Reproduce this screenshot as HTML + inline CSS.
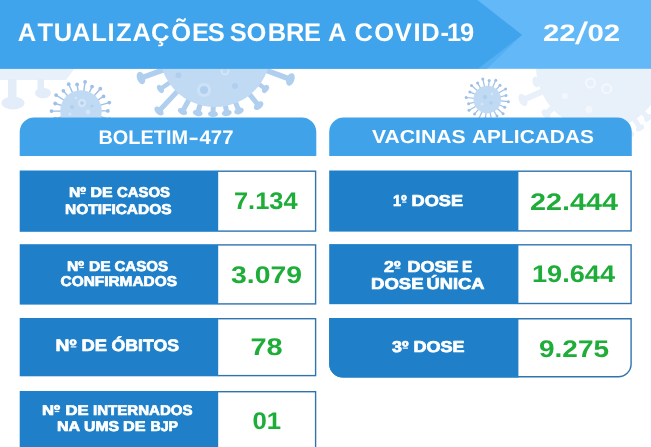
<!DOCTYPE html>
<html lang="pt-BR"><head><meta charset="utf-8"><title>Atualizações sobre a COVID-19</title>
<style>html,body{margin:0;padding:0;background:#fff;overflow:hidden}svg{display:block}</style></head>
<body>
<svg width="651" height="447" viewBox="0 0 651 447" font-family='"Liberation Sans", sans-serif' text-rendering="geometricPrecision">
<defs>
<clipPath id="band"><rect x="0" y="68" width="651" height="379"/></clipPath>
</defs>
<rect width="651" height="447" fill="#ffffff"/>
<g clip-path="url(#band)">
<rect x="0" y="68" width="60" height="12" fill="#e8f0fa"/>
<polygon points="60,68 75,68 66,80 60,80" fill="#e8f0fa"/>
<rect x="8" y="79" width="8.5" height="20" fill="#e3edf9"/><ellipse cx="13" cy="103" rx="11.5" ry="6.5" fill="#e3edf9"/>
<rect x="37.5" y="79" width="6.5" height="11" fill="#e3edf9"/><ellipse cx="43" cy="93" rx="8" ry="5.2" fill="#e3edf9"/>
<line x1="83.6" y1="92.7" x2="85.1" y2="81.8" stroke="#9fc0e6" stroke-width="1.4" stroke-linecap="round"/>
<circle cx="85.1" cy="81.8" r="1.9" fill="#9fc0e6"/>
<line x1="88.6" y1="94.2" x2="92.1" y2="86.6" stroke="#9fc0e6" stroke-width="1.4" stroke-linecap="round"/>
<circle cx="92.1" cy="86.6" r="1.9" fill="#9fc0e6"/>
<line x1="93.1" y1="97.0" x2="100.3" y2="88.7" stroke="#9fc0e6" stroke-width="1.4" stroke-linecap="round"/>
<circle cx="100.3" cy="88.7" r="1.9" fill="#9fc0e6"/>
<line x1="96.5" y1="101.0" x2="103.5" y2="96.4" stroke="#9fc0e6" stroke-width="1.4" stroke-linecap="round"/>
<circle cx="103.5" cy="96.4" r="1.9" fill="#9fc0e6"/>
<line x1="98.7" y1="105.7" x2="109.3" y2="102.6" stroke="#9fc0e6" stroke-width="1.4" stroke-linecap="round"/>
<circle cx="109.3" cy="102.6" r="1.9" fill="#9fc0e6"/>
<line x1="99.5" y1="110.9" x2="107.8" y2="110.9" stroke="#9fc0e6" stroke-width="1.4" stroke-linecap="round"/>
<circle cx="107.8" cy="110.9" r="1.9" fill="#9fc0e6"/>
<line x1="98.8" y1="116.2" x2="109.3" y2="119.2" stroke="#9fc0e6" stroke-width="1.4" stroke-linecap="round"/>
<circle cx="109.3" cy="119.2" r="1.9" fill="#9fc0e6"/>
<line x1="96.6" y1="121.0" x2="103.6" y2="125.4" stroke="#9fc0e6" stroke-width="1.4" stroke-linecap="round"/>
<circle cx="103.6" cy="125.4" r="1.9" fill="#9fc0e6"/>
<line x1="93.2" y1="124.9" x2="100.4" y2="133.2" stroke="#9fc0e6" stroke-width="1.4" stroke-linecap="round"/>
<circle cx="100.4" cy="133.2" r="1.9" fill="#9fc0e6"/>
<line x1="88.7" y1="127.8" x2="92.2" y2="135.4" stroke="#9fc0e6" stroke-width="1.4" stroke-linecap="round"/>
<circle cx="92.2" cy="135.4" r="1.9" fill="#9fc0e6"/>
<line x1="83.7" y1="129.3" x2="85.3" y2="140.2" stroke="#9fc0e6" stroke-width="1.4" stroke-linecap="round"/>
<circle cx="85.3" cy="140.2" r="1.9" fill="#9fc0e6"/>
<line x1="78.4" y1="129.3" x2="77.3" y2="137.6" stroke="#9fc0e6" stroke-width="1.4" stroke-linecap="round"/>
<circle cx="77.3" cy="137.6" r="1.9" fill="#9fc0e6"/>
<line x1="73.4" y1="127.8" x2="68.8" y2="137.9" stroke="#9fc0e6" stroke-width="1.4" stroke-linecap="round"/>
<circle cx="68.8" cy="137.9" r="1.9" fill="#9fc0e6"/>
<line x1="68.9" y1="125.0" x2="63.5" y2="131.3" stroke="#9fc0e6" stroke-width="1.4" stroke-linecap="round"/>
<circle cx="63.5" cy="131.3" r="1.9" fill="#9fc0e6"/>
<line x1="65.5" y1="121.0" x2="56.2" y2="127.0" stroke="#9fc0e6" stroke-width="1.4" stroke-linecap="round"/>
<circle cx="56.2" cy="127.0" r="1.9" fill="#9fc0e6"/>
<line x1="63.3" y1="116.3" x2="55.3" y2="118.6" stroke="#9fc0e6" stroke-width="1.4" stroke-linecap="round"/>
<circle cx="55.3" cy="118.6" r="1.9" fill="#9fc0e6"/>
<line x1="62.5" y1="111.1" x2="51.5" y2="111.1" stroke="#9fc0e6" stroke-width="1.4" stroke-linecap="round"/>
<circle cx="51.5" cy="111.1" r="1.9" fill="#9fc0e6"/>
<line x1="63.2" y1="105.8" x2="55.2" y2="103.5" stroke="#9fc0e6" stroke-width="1.4" stroke-linecap="round"/>
<circle cx="55.2" cy="103.5" r="1.9" fill="#9fc0e6"/>
<line x1="65.4" y1="101.0" x2="56.1" y2="95.1" stroke="#9fc0e6" stroke-width="1.4" stroke-linecap="round"/>
<circle cx="56.1" cy="95.1" r="1.9" fill="#9fc0e6"/>
<line x1="68.8" y1="97.1" x2="63.4" y2="90.8" stroke="#9fc0e6" stroke-width="1.4" stroke-linecap="round"/>
<circle cx="63.4" cy="90.8" r="1.9" fill="#9fc0e6"/>
<line x1="73.3" y1="94.2" x2="68.7" y2="84.2" stroke="#9fc0e6" stroke-width="1.4" stroke-linecap="round"/>
<circle cx="68.7" cy="84.2" r="1.9" fill="#9fc0e6"/>
<line x1="78.3" y1="92.7" x2="77.1" y2="84.4" stroke="#9fc0e6" stroke-width="1.4" stroke-linecap="round"/>
<circle cx="77.1" cy="84.4" r="1.9" fill="#9fc0e6"/>
<circle cx="81" cy="111" r="20.8" fill="#c0daf3"/>
<circle cx="82" cy="103" r="4.2" fill="#d3e5f7"/><circle cx="82" cy="103" r="1.8" fill="#b0cfef"/><circle cx="72" cy="107" r="2" fill="#b0cfef"/><circle cx="92" cy="106" r="1.6" fill="#b0cfef"/><circle cx="76" cy="98" r="1.3" fill="#d3e5f7"/><circle cx="88" cy="112" r="2.4" fill="#d3e5f7"/><circle cx="70" cy="114" r="1.5" fill="#d3e5f7"/>
<line x1="163.9" y1="69.7" x2="141.0" y2="78.0" stroke="#b0cfef" stroke-width="5.5" stroke-linecap="round"/>
<ellipse cx="141.0" cy="78.0" rx="4.0" ry="6.5" transform="rotate(160.1 141.0 78.0)" fill="#b0cfef"/>
<line x1="170.4" y1="82.1" x2="160.4" y2="89.0" stroke="#b0cfef" stroke-width="4.5" stroke-linecap="round"/>
<ellipse cx="160.4" cy="89.0" rx="2.8" ry="4.5" transform="rotate(145.3 160.4 89.0)" fill="#b0cfef"/>
<line x1="177.9" y1="90.8" x2="159.0" y2="111.0" stroke="#b0cfef" stroke-width="5" stroke-linecap="round"/>
<ellipse cx="159.0" cy="111.0" rx="3.4" ry="5.5" transform="rotate(133.1 159.0 111.0)" fill="#b0cfef"/>
<line x1="189.2" y1="99.0" x2="182.5" y2="111.5" stroke="#b0cfef" stroke-width="5" stroke-linecap="round"/>
<ellipse cx="182.5" cy="111.5" rx="3.1" ry="5.0" transform="rotate(118.3 182.5 111.5)" fill="#b0cfef"/>
<line x1="200.4" y1="103.5" x2="197.7" y2="113.0" stroke="#b0cfef" stroke-width="5" stroke-linecap="round"/>
<ellipse cx="197.7" cy="113.0" rx="3.1" ry="5.0" transform="rotate(105.6 197.7 113.0)" fill="#b0cfef"/>
<line x1="213.3" y1="105.5" x2="213.0" y2="114.0" stroke="#b0cfef" stroke-width="5" stroke-linecap="round"/>
<ellipse cx="213.0" cy="114.0" rx="3.1" ry="5.0" transform="rotate(91.8 213.0 114.0)" fill="#b0cfef"/>
<line x1="225.2" y1="104.5" x2="226.8" y2="113.0" stroke="#b0cfef" stroke-width="5" stroke-linecap="round"/>
<ellipse cx="226.8" cy="113.0" rx="3.1" ry="5.0" transform="rotate(79.2 226.8 113.0)" fill="#b0cfef"/>
<line x1="235.2" y1="101.6" x2="239.0" y2="111.0" stroke="#b0cfef" stroke-width="5" stroke-linecap="round"/>
<ellipse cx="239.0" cy="111.0" rx="3.1" ry="5.0" transform="rotate(68.1 239.0 111.0)" fill="#b0cfef"/>
<line x1="249.0" y1="93.6" x2="258.6" y2="105.6" stroke="#b0cfef" stroke-width="5" stroke-linecap="round"/>
<ellipse cx="258.6" cy="105.6" rx="3.4" ry="5.5" transform="rotate(51.3 258.6 105.6)" fill="#b0cfef"/>
<line x1="258.5" y1="83.7" x2="265.5" y2="89.0" stroke="#b0cfef" stroke-width="4.5" stroke-linecap="round"/>
<ellipse cx="265.5" cy="89.0" rx="2.8" ry="4.5" transform="rotate(36.8 265.5 89.0)" fill="#b0cfef"/>
<line x1="265.9" y1="70.2" x2="290.4" y2="79.4" stroke="#b0cfef" stroke-width="5.5" stroke-linecap="round"/>
<ellipse cx="290.4" cy="79.4" rx="4.0" ry="6.5" transform="rotate(20.5 290.4 79.4)" fill="#b0cfef"/>
<circle cx="215" cy="51.2" r="55.8" fill="#c0daf3"/>
<circle cx="178.4" cy="75.2" r="3" fill="#b0cfef"/><circle cx="204" cy="90" r="7" fill="#cde2f6"/><circle cx="204" cy="90" r="4" fill="#b0cfef"/><circle cx="235" cy="86" r="3" fill="#b0cfef"/><circle cx="225" cy="71" r="3.5" fill="none" stroke="#d6e7f8" stroke-width="1.5"/>
<line x1="498.7" y1="100.7" x2="508.4" y2="101.7" stroke="#9fc0e6" stroke-width="1.2" stroke-linecap="round"/>
<circle cx="508.4" cy="101.7" r="1.5" fill="#9fc0e6"/>
<line x1="497.8" y1="104.2" x2="504.8" y2="107.3" stroke="#9fc0e6" stroke-width="1.2" stroke-linecap="round"/>
<circle cx="504.8" cy="107.3" r="1.5" fill="#9fc0e6"/>
<line x1="495.9" y1="107.3" x2="503.1" y2="113.7" stroke="#9fc0e6" stroke-width="1.2" stroke-linecap="round"/>
<circle cx="503.1" cy="113.7" r="1.5" fill="#9fc0e6"/>
<line x1="493.1" y1="109.5" x2="497.0" y2="116.1" stroke="#9fc0e6" stroke-width="1.2" stroke-linecap="round"/>
<circle cx="497.0" cy="116.1" r="1.5" fill="#9fc0e6"/>
<line x1="489.7" y1="110.8" x2="491.8" y2="120.3" stroke="#9fc0e6" stroke-width="1.2" stroke-linecap="round"/>
<circle cx="491.8" cy="120.3" r="1.5" fill="#9fc0e6"/>
<line x1="486.2" y1="111.0" x2="485.4" y2="118.7" stroke="#9fc0e6" stroke-width="1.2" stroke-linecap="round"/>
<circle cx="485.4" cy="118.7" r="1.5" fill="#9fc0e6"/>
<line x1="482.7" y1="110.1" x2="478.8" y2="119.0" stroke="#9fc0e6" stroke-width="1.2" stroke-linecap="round"/>
<circle cx="478.8" cy="119.0" r="1.5" fill="#9fc0e6"/>
<line x1="479.6" y1="108.2" x2="474.6" y2="113.9" stroke="#9fc0e6" stroke-width="1.2" stroke-linecap="round"/>
<circle cx="474.6" cy="113.9" r="1.5" fill="#9fc0e6"/>
<line x1="477.4" y1="105.4" x2="469.0" y2="110.3" stroke="#9fc0e6" stroke-width="1.2" stroke-linecap="round"/>
<circle cx="469.0" cy="110.3" r="1.5" fill="#9fc0e6"/>
<line x1="476.1" y1="102.0" x2="468.6" y2="103.7" stroke="#9fc0e6" stroke-width="1.2" stroke-linecap="round"/>
<circle cx="468.6" cy="103.7" r="1.5" fill="#9fc0e6"/>
<line x1="475.9" y1="98.5" x2="466.2" y2="97.5" stroke="#9fc0e6" stroke-width="1.2" stroke-linecap="round"/>
<circle cx="466.2" cy="97.5" r="1.5" fill="#9fc0e6"/>
<line x1="476.8" y1="95.0" x2="469.8" y2="91.9" stroke="#9fc0e6" stroke-width="1.2" stroke-linecap="round"/>
<circle cx="469.8" cy="91.9" r="1.5" fill="#9fc0e6"/>
<line x1="478.7" y1="91.9" x2="471.5" y2="85.5" stroke="#9fc0e6" stroke-width="1.2" stroke-linecap="round"/>
<circle cx="471.5" cy="85.5" r="1.5" fill="#9fc0e6"/>
<line x1="481.5" y1="89.7" x2="477.6" y2="83.1" stroke="#9fc0e6" stroke-width="1.2" stroke-linecap="round"/>
<circle cx="477.6" cy="83.1" r="1.5" fill="#9fc0e6"/>
<line x1="484.9" y1="88.4" x2="482.8" y2="78.9" stroke="#9fc0e6" stroke-width="1.2" stroke-linecap="round"/>
<circle cx="482.8" cy="78.9" r="1.5" fill="#9fc0e6"/>
<line x1="488.4" y1="88.2" x2="489.2" y2="80.5" stroke="#9fc0e6" stroke-width="1.2" stroke-linecap="round"/>
<circle cx="489.2" cy="80.5" r="1.5" fill="#9fc0e6"/>
<line x1="491.9" y1="89.1" x2="495.8" y2="80.2" stroke="#9fc0e6" stroke-width="1.2" stroke-linecap="round"/>
<circle cx="495.8" cy="80.2" r="1.5" fill="#9fc0e6"/>
<line x1="495.0" y1="91.0" x2="500.0" y2="85.3" stroke="#9fc0e6" stroke-width="1.2" stroke-linecap="round"/>
<circle cx="500.0" cy="85.3" r="1.5" fill="#9fc0e6"/>
<line x1="497.2" y1="93.8" x2="505.6" y2="88.9" stroke="#9fc0e6" stroke-width="1.2" stroke-linecap="round"/>
<circle cx="505.6" cy="88.9" r="1.5" fill="#9fc0e6"/>
<line x1="498.5" y1="97.2" x2="506.0" y2="95.5" stroke="#9fc0e6" stroke-width="1.2" stroke-linecap="round"/>
<circle cx="506.0" cy="95.5" r="1.5" fill="#9fc0e6"/>
<circle cx="487.3" cy="99.6" r="13.8" fill="#c0daf3"/>
<circle cx="485" cy="97" r="2.2" fill="#b0cfef"/><circle cx="491" cy="103" r="1.8" fill="#b0cfef"/><circle cx="482" cy="104" r="1.5" fill="#d3e5f7"/><circle cx="492" cy="94" r="1.4" fill="#d3e5f7"/>
<line x1="542.8" y1="91.2" x2="523.0" y2="100.0" stroke="#e8f0fa" stroke-width="6" stroke-linecap="round"/>
<ellipse cx="523.0" cy="100.0" rx="4.0" ry="6.5" transform="rotate(156.2 523.0 100.0)" fill="#e8f0fa"/>
<line x1="539.4" y1="81.2" x2="536.0" y2="82.0" stroke="#e8f0fa" stroke-width="6" stroke-linecap="round"/>
<ellipse cx="536.0" cy="82.0" rx="3.4" ry="5.5" transform="rotate(166.0 536.0 82.0)" fill="#e8f0fa"/>
<line x1="553.3" y1="107.5" x2="546.0" y2="114.0" stroke="#e8f0fa" stroke-width="6" stroke-linecap="round"/>
<ellipse cx="546.0" cy="114.0" rx="3.4" ry="5.5" transform="rotate(138.4 546.0 114.0)" fill="#e8f0fa"/>
<line x1="633.9" y1="118.5" x2="640.0" y2="128.0" stroke="#e8f0fa" stroke-width="5" stroke-linecap="round"/>
<ellipse cx="640.0" cy="128.0" rx="2.8" ry="4.5" transform="rotate(57.2 640.0 128.0)" fill="#e8f0fa"/>
<line x1="642.4" y1="111.9" x2="648.0" y2="118.0" stroke="#e8f0fa" stroke-width="5" stroke-linecap="round"/>
<ellipse cx="648.0" cy="118.0" rx="2.8" ry="4.5" transform="rotate(47.3 648.0 118.0)" fill="#e8f0fa"/>
<line x1="624.9" y1="123.3" x2="630.0" y2="135.0" stroke="#e8f0fa" stroke-width="5" stroke-linecap="round"/>
<ellipse cx="630.0" cy="135.0" rx="2.8" ry="4.5" transform="rotate(66.5 630.0 135.0)" fill="#e8f0fa"/>
<circle cx="600" cy="66" r="64" fill="#e8f0fa"/>
<circle cx="590.5" cy="83" r="4.5" fill="none" stroke="#f4f8fd" stroke-width="2"/><circle cx="606.7" cy="88.7" r="4.5" fill="none" stroke="#f4f8fd" stroke-width="2"/><circle cx="589" cy="109.6" r="3.5" fill="#f3f7fc"/><circle cx="565" cy="96" r="3" fill="#f3f7fc"/>
</g>
<rect x="0" y="0" width="651" height="68.8" fill="#63b8f7"/>
<polygon points="478,0 522,35 487,68.8 478,68.8" fill="#54aff3"/>
<polygon points="0,0 477,0 522,35 478,68.8 0,68.8" fill="#3fa4eb"/>
<path d="M19.7,156.1 V132.0 A14.5,14.5 0 0 1 34.2,117.5 H301.8 A14.5,14.5 0 0 1 316.3,132.0 V156.1 Z" fill="#40a3ea"/>
<path d="M329.2,156.1 V132.0 A14.5,14.5 0 0 1 343.7,117.5 H617.3 A14.5,14.5 0 0 1 631.8,132.0 V156.1 Z" fill="#40a3ea"/>
<rect x="19.7" y="170.5" width="199.0" height="61.3" fill="#1f80c9"/>
<rect x="218.2" y="170.5" width="98.1" height="61.3" fill="#2f74ae"/>
<rect x="218.2" y="171.9" width="96.7" height="58.5" fill="#fff"/>
<rect x="19.7" y="244.2" width="199.0" height="60.4" fill="#1f80c9"/>
<rect x="218.2" y="244.2" width="98.1" height="60.4" fill="#2f74ae"/>
<rect x="218.2" y="245.6" width="96.7" height="57.6" fill="#fff"/>
<rect x="19.7" y="318" width="199.0" height="58.3" fill="#1f80c9"/>
<rect x="218.2" y="318" width="98.1" height="58.3" fill="#2f74ae"/>
<rect x="218.2" y="319.4" width="96.7" height="55.5" fill="#fff"/>
<rect x="19.7" y="391" width="199.0" height="64.0" fill="#1f80c9"/>
<rect x="218.2" y="391" width="98.1" height="64.0" fill="#2f74ae"/>
<rect x="218.2" y="392.4" width="96.7" height="61.2" fill="#fff"/>
<rect x="329.2" y="170.5" width="189.7" height="61.1" fill="#1f80c9"/>
<rect x="518.4" y="170.5" width="113.4" height="61.1" fill="#2f74ae"/>
<rect x="518.4" y="171.9" width="112.0" height="58.3" fill="#fff"/>
<rect x="329.2" y="244.1" width="189.7" height="60.1" fill="#1f80c9"/>
<rect x="518.4" y="244.1" width="113.4" height="60.1" fill="#2f74ae"/>
<rect x="518.4" y="245.5" width="112.0" height="57.3" fill="#fff"/>
<path d="M329.2,318 H631.8 V364.0 A13.5,13.5 0 0 1 618.3,377.5 H342.7 A13.5,13.5 0 0 1 329.2,364.0 Z" fill="#2f74ae"/>
<path d="M329.2,318 H518.9 V377.5 H342.7 A13.5,13.5 0 0 1 329.2,364.0 Z" fill="#1f80c9"/>
<path d="M518.4,319.4 H630.4 V364.0 A12.1,12.1 0 0 1 618.3,376.1 H518.4 Z" fill="#fff"/>
<text x="17.7 37.5 53.8 71.9 91.2 107.5 115.9 132.5 151.1 171.3 192.0 207.7 223.5 229.8 246.4 267.7 286.1 303.9 320.2 328.1 347.2 354.6 374.3 394.7 413.4 421.3 440.6 447.0 460.0" y="41" font-size="25.5" font-weight="bold" fill="#fff">ATUALIZAÇÕES SOBRE A COVID-19</text>
<text y="41" font-size="23.8" font-weight="bold" fill="#fff"><tspan x="543.0" textLength="32.62" lengthAdjust="spacingAndGlyphs">22</tspan><tspan x="575.0" textLength="13.11" lengthAdjust="spacingAndGlyphs" font-size="31" font-weight="normal" y="44">/</tspan><tspan x="587.5" textLength="32.75" lengthAdjust="spacingAndGlyphs" y="41">02</tspan></text>
<text y="144" font-size="19.8" font-weight="bold" fill="#fff"><tspan x="98.5" textLength="89.56" lengthAdjust="spacingAndGlyphs">BOLETIM</tspan><tspan x="188.5" textLength="10.23" lengthAdjust="spacingAndGlyphs">-</tspan><tspan x="199.5" textLength="34.05" lengthAdjust="spacingAndGlyphs">477</tspan></text>
<text y="143" font-size="18.8" font-weight="bold" fill="#fff"><tspan x="372.0" textLength="93.51" lengthAdjust="spacingAndGlyphs">VACINAS</tspan> <tspan x="472.0" textLength="122.02" lengthAdjust="spacingAndGlyphs">APLICADAS</tspan></text>
<text y="197" font-size="14.2" font-weight="bold" fill="#fff" stroke="#fff" stroke-width="0.7" stroke-linejoin="round"><tspan x="69.0" textLength="17.04" lengthAdjust="spacingAndGlyphs">Nº</tspan> <tspan x="90.5" textLength="22.07" lengthAdjust="spacingAndGlyphs">DE</tspan> <tspan x="117.0" textLength="53.01" lengthAdjust="spacingAndGlyphs">CASOS</tspan></text>
<text y="214" font-size="14.2" font-weight="bold" fill="#fff" stroke="#fff" stroke-width="0.7" stroke-linejoin="round"><tspan x="65.0" textLength="106.51" lengthAdjust="spacingAndGlyphs">NOTIFICADOS</tspan></text>
<text y="271" font-size="14.2" font-weight="bold" fill="#fff" stroke="#fff" stroke-width="0.7" stroke-linejoin="round"><tspan x="67.0" textLength="17.04" lengthAdjust="spacingAndGlyphs">Nº</tspan> <tspan x="89.0" textLength="21.52" lengthAdjust="spacingAndGlyphs">DE</tspan> <tspan x="114.5" textLength="53.5" lengthAdjust="spacingAndGlyphs">CASOS</tspan></text>
<text y="286" font-size="14.2" font-weight="bold" fill="#fff" stroke="#fff" stroke-width="0.7" stroke-linejoin="round"><tspan x="60.5" textLength="116.51" lengthAdjust="spacingAndGlyphs">CONFIRMADOS</tspan></text>
<text y="351" font-size="16.6" font-weight="bold" fill="#fff" stroke="#fff" stroke-width="0.7" stroke-linejoin="round"><tspan x="55.5" textLength="21.03" lengthAdjust="spacingAndGlyphs">Nº</tspan> <tspan x="81.5" textLength="25.54" lengthAdjust="spacingAndGlyphs">DE</tspan> <tspan x="111.5" textLength="67.5" lengthAdjust="spacingAndGlyphs">ÓBITOS</tspan></text>
<text y="415" font-size="14.2" font-weight="bold" fill="#fff" stroke="#fff" stroke-width="0.7" stroke-linejoin="round"><tspan x="42.0" textLength="18.06" lengthAdjust="spacingAndGlyphs">Nº</tspan> <tspan x="65.5" textLength="23.11" lengthAdjust="spacingAndGlyphs">DE</tspan> <tspan x="93.0" textLength="99.51" lengthAdjust="spacingAndGlyphs">INTERNADOS</tspan></text>
<text y="431" font-size="14.2" font-weight="bold" fill="#fff" stroke="#fff" stroke-width="0.7" stroke-linejoin="round"><tspan x="57.0" textLength="22.61" lengthAdjust="spacingAndGlyphs">NA</tspan> <tspan x="84.0" textLength="35.06" lengthAdjust="spacingAndGlyphs">UMS</tspan> <tspan x="123.0" textLength="22.54" lengthAdjust="spacingAndGlyphs">DE</tspan> <tspan x="150.5" textLength="27.51" lengthAdjust="spacingAndGlyphs">BJP</tspan></text>
<text y="206" font-size="15.7" font-weight="bold" fill="#fff" stroke="#fff" stroke-width="0.7" stroke-linejoin="round"><tspan x="393.0" textLength="13.51" lengthAdjust="spacingAndGlyphs">1º</tspan> <tspan x="411.5" textLength="51.54" lengthAdjust="spacingAndGlyphs">DOSE</tspan></text>
<text y="272" font-size="15.7" font-weight="bold" fill="#fff" stroke="#fff" stroke-width="0.7" stroke-linejoin="round"><tspan x="384.0" textLength="16.51" lengthAdjust="spacingAndGlyphs">2º</tspan> <tspan x="407.5" textLength="51.05" lengthAdjust="spacingAndGlyphs">DOSE</tspan> <tspan x="462.0" textLength="10.1" lengthAdjust="spacingAndGlyphs">E</tspan></text>
<text y="289" font-size="15.7" font-weight="bold" fill="#fff" stroke="#fff" stroke-width="0.7" stroke-linejoin="round"><tspan x="371.0" textLength="52.52" lengthAdjust="spacingAndGlyphs">DOSE</tspan> <tspan x="426.5" textLength="58.02" lengthAdjust="spacingAndGlyphs">ÚNICA</tspan></text>
<text y="352" font-size="15.7" font-weight="bold" fill="#fff" stroke="#fff" stroke-width="0.7" stroke-linejoin="round"><tspan x="392.0" textLength="16.53" lengthAdjust="spacingAndGlyphs">3º</tspan> <tspan x="413.5" textLength="51.03" lengthAdjust="spacingAndGlyphs">DOSE</tspan></text>
<text y="209" font-size="24.1" font-weight="bold" fill="#1dad38"><tspan x="234.0" textLength="63.54" lengthAdjust="spacingAndGlyphs">7.134</tspan></text>
<text y="283" font-size="24.1" font-weight="bold" fill="#1dad38"><tspan x="231.0" textLength="71.04" lengthAdjust="spacingAndGlyphs">3.079</tspan></text>
<text y="355" font-size="24.1" font-weight="bold" fill="#1dad38"><tspan x="250.5" textLength="32.2" lengthAdjust="spacingAndGlyphs">78</tspan></text>
<text y="429" font-size="24.1" font-weight="bold" fill="#1dad38"><tspan x="252.5" textLength="28.62" lengthAdjust="spacingAndGlyphs">01</tspan></text>
<text y="210" font-size="24.1" font-weight="bold" fill="#1dad38"><tspan x="530.0" textLength="88.02" lengthAdjust="spacingAndGlyphs">22.444</tspan></text>
<text y="282" font-size="24.1" font-weight="bold" fill="#1dad38"><tspan x="532.0" textLength="83.06" lengthAdjust="spacingAndGlyphs">19.644</tspan></text>
<text y="357" font-size="24.1" font-weight="bold" fill="#1dad38"><tspan x="539.0" textLength="70.04" lengthAdjust="spacingAndGlyphs">9.275</tspan></text>
<rect x="80.8" y="193.0" width="4.5" height="1.1" fill="#fff"/>
<rect x="79.5" y="267.0" width="4.4" height="1.1" fill="#fff"/>
<rect x="70.7" y="346.3" width="5.7" height="1.2" fill="#fff"/>
<rect x="54.7" y="411.0" width="4.6" height="1.1" fill="#fff"/>
<rect x="402.1" y="201.5" width="4.3" height="1.2" fill="#fff"/>
<rect x="394.9" y="267.5" width="5.5" height="1.2" fill="#fff"/>
<rect x="402.7" y="347.5" width="5.3" height="1.2" fill="#fff"/>
</svg>
</body></html>
